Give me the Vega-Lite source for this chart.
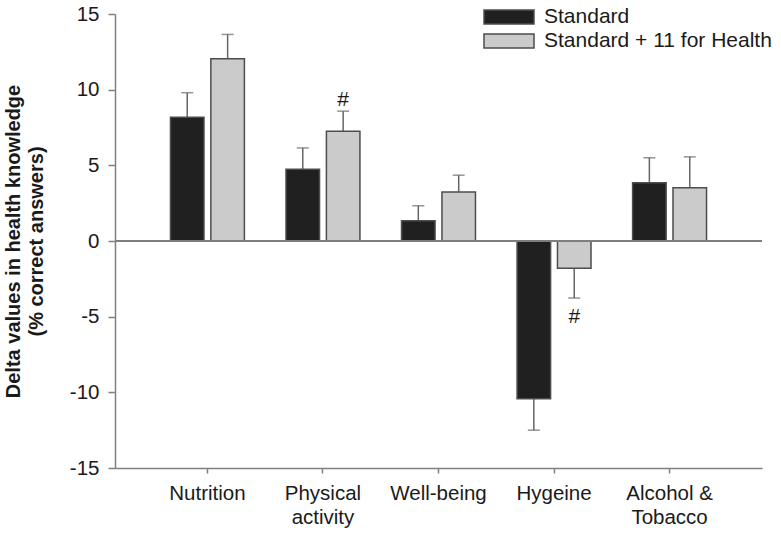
{
  "$schema": "https://vega.github.io/schema/vega-lite/v6.json",
  "width": 647,
  "height": 454,
  "autosize": {"type": "none"},
  "padding": {"left": 115, "top": 14, "right": 19, "bottom": 68},
  "config": {
    "view": {"stroke": null},
    "font": "Liberation Sans",
    "axis": {"domainColor": "#7f7f7f", "tickColor": "#7f7f7f", "domainWidth": 1.5, "tickWidth": 1.5, "labelColor": "#1a1a1a", "titleColor": "#1a1a1a", "grid": false}
  },
  "data": {
    "values": [
      {"topic": "Nutrition", "group": "Standard", "value": 8.18, "err": 9.8, "sig": ""},
      {"topic": "Nutrition", "group": "Standard + 11 for Health", "value": 12.05, "err": 13.65, "sig": ""},
      {"topic": "Physical activity", "group": "Standard", "value": 4.74, "err": 6.15, "sig": ""},
      {"topic": "Physical activity", "group": "Standard + 11 for Health", "value": 7.25, "err": 8.58, "sig": "#"},
      {"topic": "Well-being", "group": "Standard", "value": 1.33, "err": 2.33, "sig": ""},
      {"topic": "Well-being", "group": "Standard + 11 for Health", "value": 3.24, "err": 4.35, "sig": ""},
      {"topic": "Hygeine", "group": "Standard", "value": -10.42, "err": -12.5, "sig": ""},
      {"topic": "Hygeine", "group": "Standard + 11 for Health", "value": -1.8, "err": -3.77, "sig": "#"},
      {"topic": "Alcohol & Tobacco", "group": "Standard", "value": 3.85, "err": 5.5, "sig": ""},
      {"topic": "Alcohol & Tobacco", "group": "Standard + 11 for Health", "value": 3.52, "err": 5.56, "sig": ""}
    ]
  },
  "encoding": {
    "x": {
      "field": "topic", "type": "nominal", "sort": null,
      "scale": {"paddingInner": 0.36, "paddingOuter": 0.48},
      "axis": {
        "title": null, "labelAngle": 0, "labelFontSize": 20.5, "labelPadding": 10, "tickSize": 5,
        "labelLineHeight": 24,
        "labelExpr": "datum.label == 'Physical activity' ? ['Physical', 'activity'] : datum.label == 'Alcohol & Tobacco' ? ['Alcohol &', 'Tobacco'] : datum.label"
      }
    },
    "xOffset": {"field": "group", "type": "nominal", "scale": {"paddingInner": 0.17, "paddingOuter": 0}}
  },
  "layer": [
    {
      "mark": {"type": "rule", "color": "#666666", "strokeWidth": 1.5},
      "encoding": {
        "y": {"field": "value", "type": "quantitative"},
        "y2": {"field": "err"}
      }
    },
    {
      "mark": {"type": "tick", "color": "#666666", "size": 12, "thickness": 1.5, "orient": "horizontal"},
      "encoding": {
        "y": {"field": "err", "type": "quantitative"}
      }
    },
    {
      "mark": {"type": "bar", "stroke": "#4d4d4d", "strokeWidth": 1.5},
      "encoding": {
        "y": {
          "field": "value", "type": "quantitative",
          "scale": {"domain": [-15, 15], "nice": false},
          "axis": {
            "values": [-15, -10, -5, 0, 5, 10, 15], "tickSize": 7, "labelPadding": 9, "labelFontSize": 20.5,
            "labelExpr": "'' + datum.value",
            "title": ["Delta values in health knowledge", "(% correct answers)"],
            "titleFontSize": 20, "titleFontWeight": "bold", "titlePadding": 23, "titleLineHeight": 23
          }
        },
        "fill": {
          "field": "group", "type": "nominal",
          "scale": {"domain": ["Standard", "Standard + 11 for Health"], "range": ["#202020", "#cbcbcb"]},
          "legend": {
            "title": null, "orient": "none", "legendX": 368, "legendY": -7,
            "symbolType": "M-1,-0.28L1,-0.28L1,0.28L-1,0.28Z", "symbolSize": 2500,
            "symbolStrokeColor": "#4d4d4d", "symbolStrokeWidth": 1.5,
            "clipHeight": 20, "rowPadding": 3, "labelOffset": 9, "labelFontSize": 21, "labelColor": "#1a1a1a", "labelLimit": 400
          }
        }
      }
    },
    {
      "mark": {"type": "rule", "color": "#7f7f7f", "strokeWidth": 1.5},
      "encoding": {"y": {"datum": 0}, "x": {"value": 0}, "x2": {"value": 647}, "xOffset": null}
    },
    {
      "transform": [{"filter": "datum.sig != '' && datum.err > 0"}],
      "mark": {"type": "text", "fontSize": 21, "baseline": "alphabetic", "dy": -5, "color": "#1a1a1a"},
      "encoding": {"y": {"field": "err", "type": "quantitative"}, "text": {"field": "sig"}}
    },
    {
      "transform": [{"filter": "datum.sig != '' && datum.err < 0"}],
      "mark": {"type": "text", "fontSize": 21, "baseline": "top", "dy": 8, "color": "#1a1a1a"},
      "encoding": {"y": {"field": "err", "type": "quantitative"}, "text": {"field": "sig"}}
    }
  ]
}
